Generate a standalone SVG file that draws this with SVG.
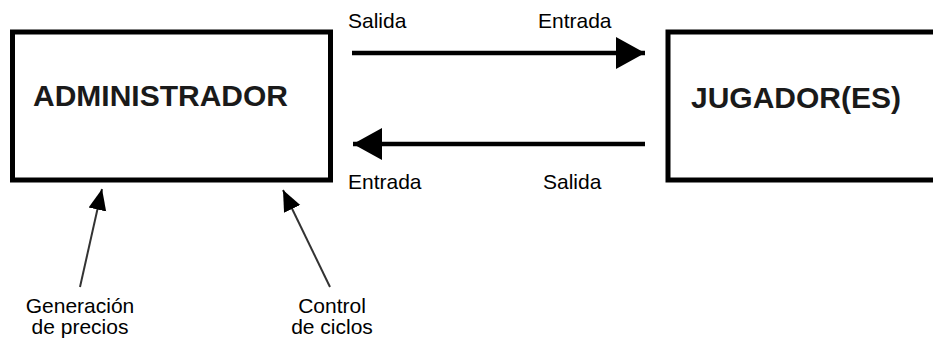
<svg xmlns="http://www.w3.org/2000/svg" width="933" height="340" viewBox="0 0 933 340">
<style>
.box{fill:#fff;stroke:#000;stroke-width:5}
.title{font-family:"Liberation Sans",Arial,sans-serif;font-weight:bold;font-size:30px;fill:#1a1a1a}
.lbl{font-family:"Liberation Sans",Arial,sans-serif;font-size:21px;fill:#000}
.thick{stroke:#000;stroke-width:4.5;fill:none}
.thin{stroke:#333;stroke-width:2;fill:none}
</style>
<defs>
<marker id="bigHead" markerUnits="userSpaceOnUse" markerWidth="30" markerHeight="32" refX="29" refY="16" orient="auto">
<path d="M0,0 L29,16 L0,32 Z" fill="#000"/>
</marker>
<marker id="smallHead" markerUnits="userSpaceOnUse" markerWidth="22" markerHeight="20" refX="21" refY="10" orient="auto">
<path d="M0,1 L21,10 L0,19 Z" fill="#000"/>
</marker>
</defs>
<rect width="933" height="340" fill="#fff"/>
<g id="administrador">
<rect class="box" x="12.5" y="32" width="318" height="148"/>
<text class="title" x="33" y="106">ADMINISTRADOR</text>
</g>
<g id="jugadores">
<rect class="box" x="668" y="32" width="280" height="148"/>
<text class="title" x="691" y="108">JUGADOR(ES)</text>
</g>
<g id="connectors">
<line class="thick" x1="352" y1="53" x2="645" y2="53" marker-end="url(#bigHead)"/>
<line class="thick" x1="645" y1="144" x2="353" y2="144" marker-end="url(#bigHead)"/>
<line class="thin" x1="80" y1="287" x2="102" y2="189" marker-end="url(#smallHead)"/>
<line class="thin" x1="330" y1="287" x2="283" y2="190" marker-end="url(#smallHead)"/>
</g>
<g id="labels">
<text class="lbl" x="348" y="28">Salida</text>
<text class="lbl" x="538" y="28">Entrada</text>
<text class="lbl" x="348" y="189">Entrada</text>
<text class="lbl" x="543" y="189">Salida</text>
<text class="lbl" x="80" y="313" text-anchor="middle">Generación</text>
<text class="lbl" x="80" y="334" text-anchor="middle">de precios</text>
<text class="lbl" x="332" y="313" text-anchor="middle">Control</text>
<text class="lbl" x="332" y="334" text-anchor="middle">de ciclos</text>
</g>
</svg>
